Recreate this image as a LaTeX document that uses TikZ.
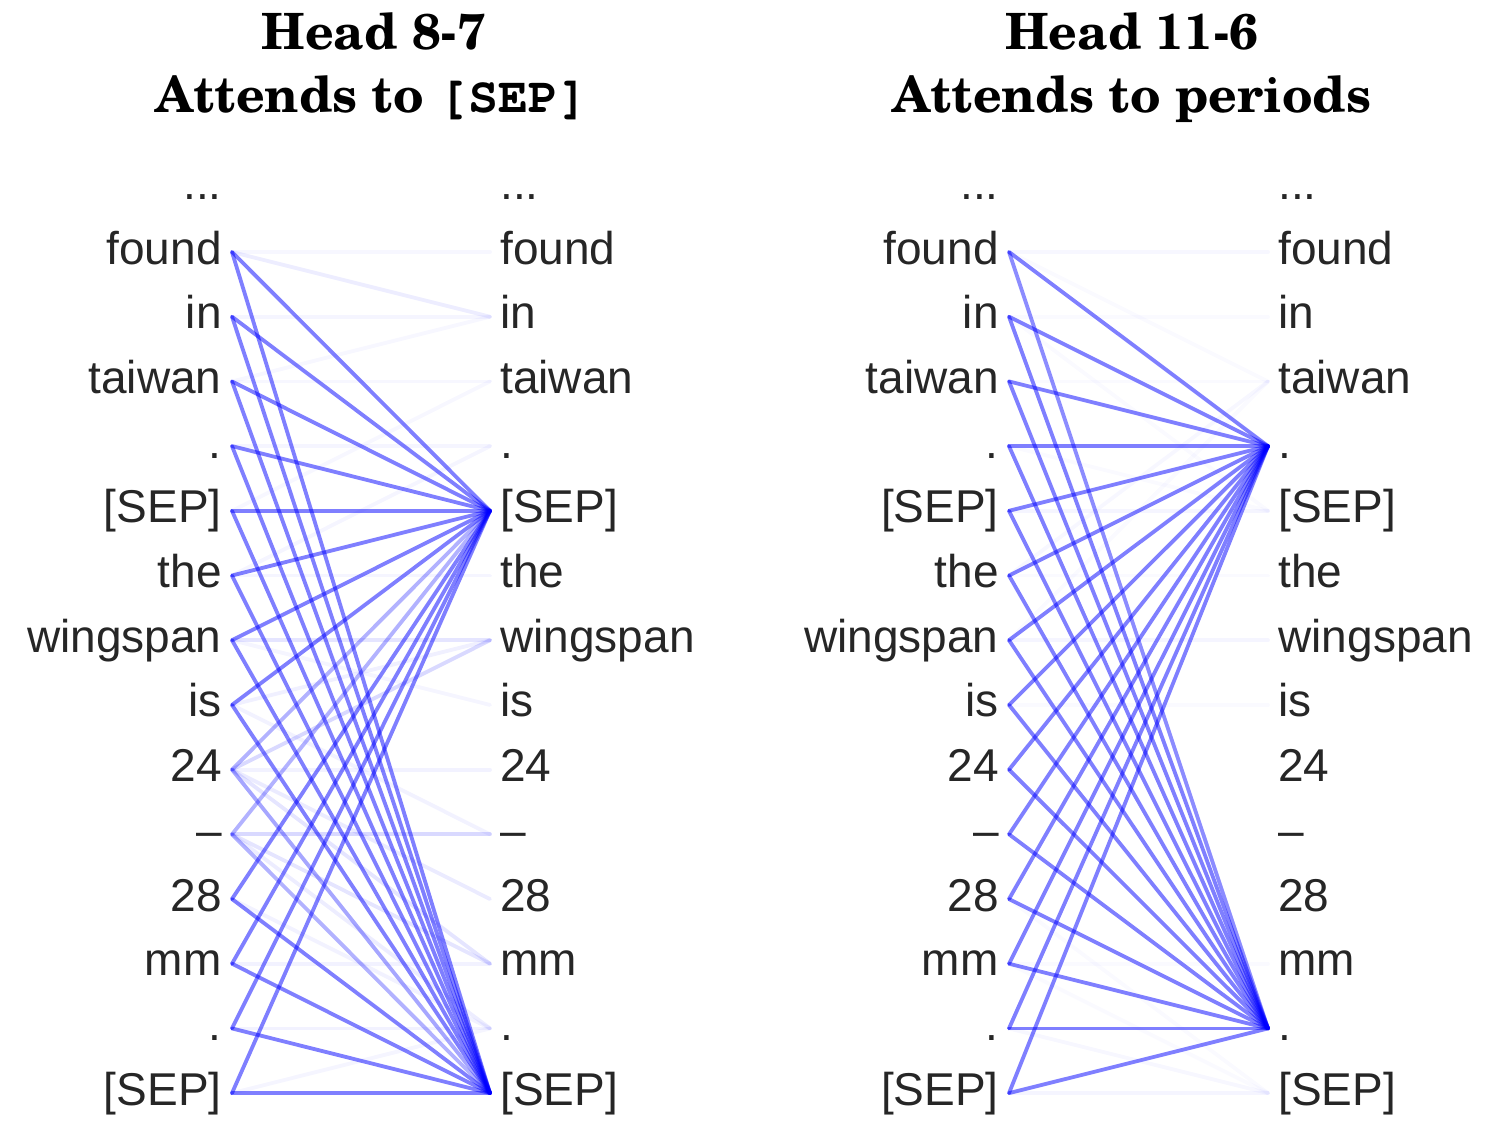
\documentclass[tikz,border=0pt]{standalone}
\usepackage{fontspec}
\setmainfont{Liberation Sans}
\newfontfamily\titlefont{texgyreschola-bold.otf}
\newfontfamily\titlett{texgyrecursor-bold.otf}
\definecolor{wordgray}{HTML}{262626}
\def\threedots{...}
\begin{document}
\begin{tikzpicture}[x=0.5pt,y=-0.5pt,
  word/.style={font=\fontsize{23}{27}\selectfont, text=wordgray, inner sep=0pt},
  lw/.style={word, anchor=base east},
  rw/.style={word, anchor=base west},
  ttl/.style={font=\titlefont\fontsize{25}{29}\selectfont, inner sep=0pt, anchor=base},
  att/.style={draw=blue, line width=1.9pt, line cap=round}]
\useasboundingbox (0,0) rectangle (1502,1132);
% titles
\node[ttl] (tA1) at (374,49) {Head 8-7};
\node[ttl] (tA2) at (372,112) {Attends to {\titlett [SEP]}};
\node[ttl] (tB1) at (1132,49) {Head 11-6};
\node[ttl] (tB2) at (1132,112) {Attends to periods};
% words and anchor coordinates
\foreach \i/\w [evaluate=\i as \y using 187.3+64.7*\i] in
  {0/\threedots,1/found,2/in,3/taiwan,4/.,5/{[SEP]},6/the,7/wingspan,8/is,9/24,10/\textendash,11/28,12/mm,13/.,14/{[SEP]}}{
  \coordinate (A-l\i) at (232,\y);
  \coordinate (A-r\i) at (490,\y);
  \coordinate (B-l\i) at (1009,\y);
  \coordinate (B-r\i) at (1268,\y);
  \node[lw] (A-L\i) at (222,\y+12) {\w};
  \node[rw] (A-R\i) at (500,\y+12) {\w};
  \node[lw] (B-L\i) at (999,\y+12) {\w};
  \node[rw] (B-R\i) at (1278,\y+12) {\w};
}
% Head 8-7: faint attention
\foreach \i/\j/\o in {1/1/.03,1/2/.07,2/2/.04,3/2/.03,3/3/.03,4/4/.04,6/4/.04,5/3/.03,6/6/.04,7/7/.1,8/7/.06,9/7/.15,7/8/.04,9/9/.05,8/10/.05,9/11/.08,9/12/.1,10/10/.15,10/12/.1,10/13/.07,11/13/.05,12/12/.05,13/13/.05,14/13/.04}
  \draw[att, draw opacity=\o] (A-l\i) -- (A-r\j);
% Head 8-7: strong attention to [SEP]
\foreach \i/\j/\o in {1/5/.5,1/14/.5,2/5/.5,2/14/.5,3/5/.5,3/14/.5,4/5/.5,4/14/.5,5/5/.5,5/14/.5,6/5/.5,6/14/.5,7/5/.5,7/14/.5,8/5/.5,8/14/.5,9/5/.3,9/14/.35,10/5/.3,10/14/.3,11/5/.5,11/14/.5,12/5/.5,12/14/.5,13/5/.5,13/14/.5,14/5/.5,14/14/.5}
  \draw[att, draw opacity=\o] (A-l\i) -- (A-r\j);
% Head 11-6: faint attention
\foreach \i/\j/\o in {1/1/.03,2/2/.02,1/3/.02,2/5/.02,3/3/.02,4/5/.02,5/5/.04,6/3/.03,6/6/.02,7/3/.02,7/7/.04,8/8/.02,11/14/.02,12/12/.02,12/14/.02,13/14/.03,14/14/.04}
  \draw[att, draw opacity=\o] (B-l\i) -- (B-r\j);
% Head 11-6: strong attention to periods
\foreach \i/\j/\o in {1/4/.5,1/13/.45,2/4/.5,2/13/.5,3/4/.5,3/13/.5,4/4/.5,4/13/.5,5/4/.5,5/13/.5,6/4/.5,6/13/.5,7/4/.5,7/13/.5,8/4/.5,8/13/.5,9/4/.5,9/13/.5,10/4/.5,10/13/.5,11/4/.5,11/13/.5,12/4/.5,12/13/.5,13/4/.5,13/13/.5,14/4/.5,14/13/.5}
  \draw[att, draw opacity=\o] (B-l\i) -- (B-r\j);
\end{tikzpicture}
\end{document}
